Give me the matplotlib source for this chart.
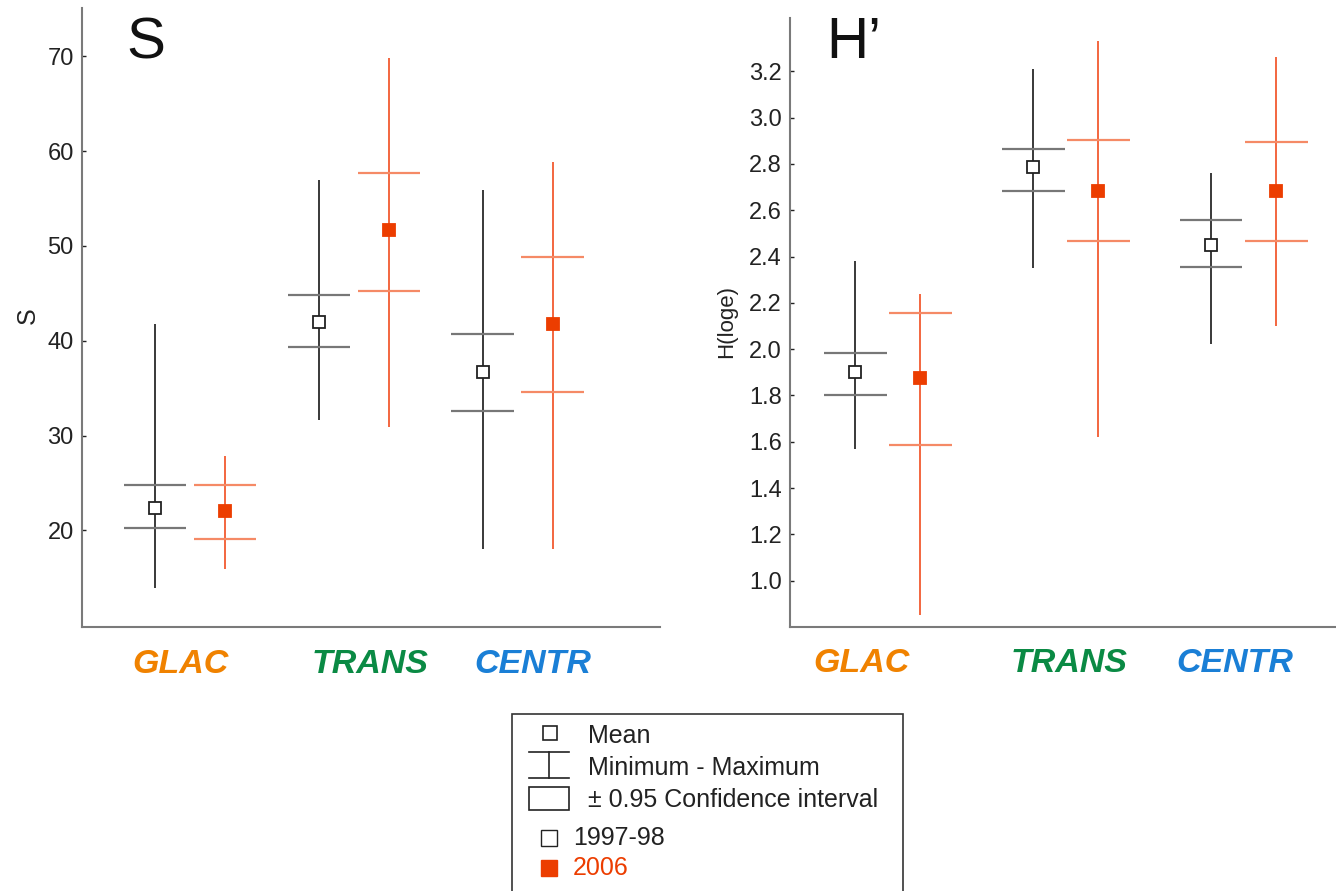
import numpy as np
import matplotlib
matplotlib.use("Agg")
import matplotlib.pyplot as plt
from matplotlib.lines import Line2D
from matplotlib.patches import Rectangle
import matplotlib.transforms as mtransforms

plt.rcParams['font.family'] = ['Liberation Sans', 'DejaVu Sans']

# ---- data ----
categories = ['GLAC', 'TRANS', 'CENTR']
cat_colors = ['#f08200', '#0a8a44', '#1a7fd6']

# species richness S
s_mean_97 = [22.4, 42.0, 36.7]
s_cilo_97 = [20.2, 39.3, 32.6]
s_cihi_97 = [24.8, 44.8, 40.7]
s_min_97 = [13.9, 31.6, 18.0]
s_max_97 = [41.8, 57.0, 55.9]

s_mean_06 = [22.0, 51.7, 41.8]
s_cilo_06 = [19.1, 45.2, 34.6]
s_cihi_06 = [24.8, 57.7, 48.8]
s_min_06 = [15.9, 30.9, 18.0]
s_max_06 = [27.8, 69.8, 58.9]

# Shannon H'
h_mean_97 = [1.90, 2.785, 2.45]
h_cilo_97 = [1.80, 2.685, 2.355]
h_cihi_97 = [1.985, 2.865, 2.556]
h_min_97 = [1.57, 2.35, 2.02]
h_max_97 = [2.38, 3.21, 2.76]

h_mean_06 = [1.877, 2.685, 2.685]
h_cilo_06 = [1.588, 2.465, 2.465]
h_cihi_06 = [2.155, 2.905, 2.895]
h_min_06 = [0.85, 1.62, 2.10]
h_max_06 = [2.24, 3.33, 3.26]

s_ticks = [20, 30, 40, 50, 60, 70]
h_ticks = [1.0, 1.2, 1.4, 1.6, 1.8, 2.0, 2.2, 2.4, 2.6, 2.8, 3.0, 3.2]

RED = '#ec3d00'
RED_LINE = '#f25a30'
RED_CI = '#f58a66'
BLACK_LINE = '#2a2a2a'
BLACK_CI = '#777777'

fig = plt.figure(figsize=(13.36, 8.91), dpi=100)
ax1 = fig.add_axes([82/1336, 1-627/891, 578/1336, 619/891])
ax2 = fig.add_axes([790/1336, 1-627/891, 546/1336, 609/891])


def draw_panel(ax, series, offset, cap, xlim, ylim, ticks, fmt):
    x = np.arange(len(categories))
    for (mean, cilo, cihi, mn, mx, style), off in zip(series, offset):
        xs = x + off
        line_c, ci_c, face = style
        ax.vlines(xs, mn, mx, color=line_c, lw=1.3, zorder=2)
        ax.hlines(cilo, xs - cap, xs + cap, color=ci_c, lw=1.6, zorder=2)
        ax.hlines(cihi, xs - cap, xs + cap, color=ci_c, lw=1.6, zorder=2)
        ax.plot(xs, mean, 's', ms=9, mfc=face,
                mec='#222222' if face == 'white' else face, mew=1.3,
                ls='none', zorder=3)
    ax.set_xlim(*xlim)
    ax.set_ylim(*ylim)
    ax.set_yticks(ticks)
    ax.set_yticklabels([fmt.format(t) for t in ticks])
    ax.set_xticks([])
    for sp in ['top', 'right']:
        ax.spines[sp].set_visible(False)
    for sp in ['left', 'bottom']:
        ax.spines[sp].set_color('#7a7a7a')
        ax.spines[sp].set_linewidth(1.5)
    ax.tick_params(axis='y', direction='in', length=3, width=1,
                   labelsize=17, colors='#222222', pad=6)


style_97 = (BLACK_LINE, BLACK_CI, 'white')
style_06 = (RED_LINE, RED_CI, RED)

draw_panel(ax1,
           [(s_mean_97, s_cilo_97, s_cihi_97, s_min_97, s_max_97, style_97),
            (s_mean_06, s_cilo_06, s_cihi_06, s_min_06, s_max_06, style_06)],
           offset=[-0.214, 0.214], cap=0.19,
           xlim=(-0.66, 2.87), ylim=(9.8, 75.1), ticks=s_ticks, fmt='{:.0f}')
draw_panel(ax2,
           [(h_mean_97, h_cilo_97, h_cihi_97, h_min_97, h_max_97, style_97),
            (h_mean_06, h_cilo_06, h_cihi_06, h_min_06, h_max_06, style_06)],
           offset=[-0.183, 0.183], cap=0.177,
           xlim=(-0.551, 2.52), ylim=(0.80, 3.43), ticks=h_ticks, fmt='{:.1f}')

# category labels under each panel
label_shift = {ax1: [-0.06, 0.10, 0.09], ax2: [-0.15, 0.02, -0.05]}
for ax in (ax1, ax2):
    trans = mtransforms.blended_transform_factory(ax.transData, ax.transAxes)
    for i, (cat, col) in enumerate(zip(categories, cat_colors)):
        ax.text(i + label_shift[ax][i], -0.06, cat, transform=trans,
                ha='center', va='center', fontsize=24.5, fontweight='bold',
                fontstyle='italic', color=col, clip_on=False)

# panel titles
ax1.text(0.076, 0.919, 'S', transform=ax1.transAxes, fontsize=42,
         va='baseline', ha='left', color='#111111')
ax2.text(0.066, 0.934, 'H\u2019', transform=ax2.transAxes, fontsize=42,
         va='baseline', ha='left', color='#111111')

# y labels
fig.text(28/1336, 1-316/891, 'S', rotation=90, ha='center', va='center',
         fontsize=18, color='#222222')
fig.text(727/1336, 1-322/891, 'H(loge)', rotation=90, ha='center', va='center',
         fontsize=16, color='#222222')

# ---- legend box drawn in pixel coordinates ----
W, H = 1336, 891


def px(x, y):
    return x / W, 1 - y / H


tf = fig.transFigure
fig.add_artist(Rectangle(px(512, 900), 391/W, 186/H, transform=tf,
                         fill=False, ec='#333333', lw=1.2))
# mean symbol
fig.add_artist(Line2D([px(550, 0)[0]], [px(0, 733)[1]], marker='s', ms=10,
                      mfc='white', mec='#222222', mew=1.2, transform=tf))
fig.text(*px(588, 736), 'Mean', fontsize=18, va='center', color='#222222')
# min-max symbol
x0, x1 = px(529, 0)[0], px(569, 0)[0]
xm = px(549, 0)[0]
fig.add_artist(Line2D([x0, x1], [px(0, 752)[1]] * 2, color='#222222', lw=1.2,
                      transform=tf))
fig.add_artist(Line2D([x0, x1], [px(0, 778)[1]] * 2, color='#222222', lw=1.2,
                      transform=tf))
fig.add_artist(Line2D([xm, xm], [px(0, 752)[1], px(0, 778)[1]],
                      color='#222222', lw=1.2, transform=tf))
fig.text(*px(588, 768), 'Minimum - Maximum', fontsize=18, va='center',
         color='#222222')
# CI symbol
fig.add_artist(Rectangle(px(529, 810), 40/W, 23/H, transform=tf,
                         fill=False, ec='#222222', lw=1.2))
fig.text(*px(588, 800), '\u00b1 0.95 Confidence interval', fontsize=18,
         va='center', color='#222222')
# periods
fig.add_artist(Line2D([xm], [px(0, 838)[1]], marker='s', ms=12,
                      mfc='white', mec='#222222', mew=1.0, transform=tf))
fig.text(*px(573, 838), '1997-98', fontsize=18, va='center',
         color='#222222')
fig.add_artist(Line2D([xm], [px(0, 868)[1]], marker='s', ms=12,
                      mfc=RED, mec=RED, transform=tf))
fig.text(*px(573, 868), '2006', fontsize=18, va='center', color=RED)

fig.savefig('out.png', dpi=100)
